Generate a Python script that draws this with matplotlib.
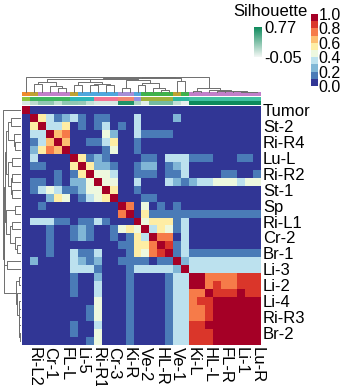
import numpy as np
import matplotlib
matplotlib.use("Agg")
import matplotlib.pyplot as plt
from matplotlib.colors import LinearSegmentedColormap, Normalize, to_rgba
from matplotlib.cm import ScalarMappable

plt.rcParams["font.family"] = ["Liberation Sans", "DejaVu Sans"]

# sample order (same for rows and columns)
samples = ["Tumor", "Ri-L2", "St-2", "Cr-1", "Ri-R4", "FL-L", "Lu-L", "Li-5",
           "Ri-R2", "Ri-R1", "St-1", "Cr-3", "Sp", "Ki-R", "Ri-L1", "Ve-2",
           "Cr-2", "HL-R", "Br-1", "Ve-1", "Li-3", "Ki-L", "Li-2", "HL-L",
           "Li-4", "FL-R", "Ri-R3", "Li-1", "Br-2", "Lu-R"]

# lower triangle of the similarity matrix (row i holds columns 0..i)
sim_lower = [
    [1.0],
    [.03, 1.0],
    [.03, .52, 1.0],
    [.03, .35, .35, 1.0],
    [.03, .17, .35, .62, 1.0],
    [.03, .27, .52, .70, .68, 1.0],
    [.03, .35, .03, .03, .03, .03, 1.0],
    [.03, .17, .17, .03, .03, .03, .52, 1.0],
    [.03, .03, .03, .03, .17, .03, .17, .50, 1.0],
    [.03, .17, .17, .03, .17, .03, .27, .27, .42, 1.0],
    [.03, .17, .35, .45, .35, .17, .17, .27, .45, .45, 1.0],
    [.03, .03, .03, .27, .52, .43, .03, .17, .30, .40, .52, 1.0],
    [.03, .03, .17, .03, .03, .03, .03, .03, .03, .03, .03, .03, 1.0],
    [.03, .03, .03, .03, .03, .03, .03, .03, .03, .03, .03, .03, .70, 1.0],
    [.03, .30, .30, .30, .17, .17, .03, .17, .17, .30, .17, .03, .03, .03, 1.0],
    [.03, .03, .03, .17, .03, .03, .17, .27, .17, .03, .03, .17, .43, .50, .43, 1.0],
    [.03, .03, .03, .17, .03, .03, .17, .27, .17, .03, .03, .17, .03, .17, .50, .35, 1.0],
    [.03, .03, .03, .17, .03, .03, .03, .03, .03, .03, .03, .03, .17, .17, .52, .52, .70, 1.0],
    [.03, .03, .03, .17, .03, .03, .30, .17, .17, .30, .03, .03, .03, .17, .50, .45, .72, .85, 1.0],
    [.03, .27, .03, .03, .03, .03, .30, .27, .17, .27, .03, .03, .17, .17, .17, .17, .03, .17, .17, 1.0],
    [.03, .03, .03, .03, .03, .03, .30, .35, .35, .17, .03, .03, .03, .17, .35, .35, .35, .35, .35, .25, 1.0],
    [.03, .03, .03, .03, .03, .03, .17, .03, .03, .27, .03, .03, .03, .17, .03, .03, .03, .03, .17, .35, .35, 1.0],
    [.03, .03, .03, .03, .03, .03, .17, .03, .03, .35, .03, .03, .03, .17, .03, .03, .03, .03, .17, .35, .35, .95, 1.0],
    [.03, .03, .03, .03, .03, .03, .17, .03, .03, .35, .03, .03, .03, .17, .03, .03, .03, .03, .17, .35, .35, .70, .70, 1.0],
    [.03, .03, .03, .03, .03, .03, .03, .03, .03, .43, .03, .03, .03, .17, .03, .03, .03, .03, .17, .35, .35, .70, .85, .85, 1.0],
    [.03, .03, .03, .03, .03, .03, .03, .03, .17, .43, .03, .03, .03, .17, .03, .03, .03, .03, .17, .35, .35, .70, .70, .85, .95, 1.0],
    [.03, .03, .03, .03, .03, .03, .03, .03, .17, .43, .03, .03, .03, .17, .03, .03, .03, .03, .17, .35, .35, .70, .70, .85, .95, .95, 1.0],
    [.03, .03, .03, .03, .03, .03, .17, .03, .03, .35, .03, .03, .03, .17, .03, .03, .03, .03, .17, .35, .35, .85, .85, .95, .95, .95, .95, 1.0],
    [.03, .03, .03, .03, .03, .03, .17, .03, .03, .43, .03, .03, .03, .17, .03, .03, .03, .03, .17, .35, .35, .85, .85, .85, .95, .95, .95, .95, 1.0],
    [.03, .03, .03, .03, .03, .03, .03, .03, .17, .43, .03, .03, .03, .17, .03, .03, .03, .03, .17, .35, .35, .85, .85, .85, .95, .95, .95, .95, .95, 1.0],
]

# column annotations
group_colors = ["#ef8b2c", "#bfa232", "#c27fca", "#c27fca", "#c27fca", "#c27fca",
                "#bfa232", "#4fa7dd", "#4fa7dd", "#4fa7dd", "#4fa7dd", "#4fa7dd",
                "#a68fd8", "#a68fd8", "#4fa7dd", "#3fb24b", "#3fb24b", "#3fb24b",
                "#3fb24b", "#bfa232", "#3fb24b", "#c27fca", "#c27fca", "#c27fca",
                "#c27fca", "#c27fca", "#c27fca", "#c27fca", "#c27fca", "#c27fca"]
site_colors = ["#8cc43e", "#3db560", "#3db560", "#3db560", "#3db560", "#3db560",
               "#2cb6b8", "#2cb6b8", "#2cb6b8", "#f27393", "#f27393", "#f27393",
               "#f28572", "#f28572", "#958fe0", "#9fb13c", "#9fb13c", "#9fb13c",
               "#9fb13c", "#2eb69e", "#2eb69e", "#40c0a2", "#40c0a2", "#40c0a2",
               "#40c0a2", "#40c0a2", "#40c0a2", "#40c0a2", "#40c0a2", "#40c0a2"]
silhouette = [0.05, 0.15, 0.3, 0.3, 0.12, 0.3, 0.3, 0.28, 0.12, 0.05, 0.05, 0.05,
              0.7, 0.7, 0.2, 0.02, 0.4, 0.4, 0.4, 0.12, 0.0, 0.77, 0.77, 0.77,
              0.77, 0.77, 0.77, 0.77, 0.77, 0.77]
sil_range = (-0.05, 0.77)

# hierarchical clustering tree: (left, right, merge height), leaves are positions
tree = (0, ((((((1, 2, .55), (3, (4, 5, .30), .38), .70),
               ((6, 7, .45), ((8, 9, .50), (10, 11, .45), .55), .68), .85),
              ((12, 13, .30), ((14, 15, .50), (16, (17, 18, .15), .28), .58), .80), .90),
             (19, 20, .75), .95),
            ((21, 22, .05), (23, ((24, 25, .04), (26, (27, (28, 29, .02), .03), .04), .05), .15), .25),
            .97), 1.0)

n = len(samples)
sim = np.zeros((n, n))
for i, row in enumerate(sim_lower):
    for j, v in enumerate(row):
        sim[i, j] = v
        sim[j, i] = v

W, H = 341, 386
fig = plt.figure(figsize=(W / 100, H / 100), dpi=100)


def px_axes(x0, y0, x1, y1):
    return fig.add_axes([x0 / W, 1 - y1 / H, (x1 - x0) / W, (y1 - y0) / H])


heat_cmap = plt.get_cmap("RdYlBu_r", 10)
sil_cmap = LinearSegmentedColormap.from_list("sil", ["#f4f7f5", "#0d8a5c"])

# heatmap
ax = px_axes(22, 106, 261, 345)
im = ax.imshow(sim, cmap=heat_cmap, vmin=0, vmax=1, aspect="auto",
               interpolation="nearest")
ax.set_xticks(range(1, n, 2))
ax.set_xticklabels(samples[1::2], rotation=270, ha="center", va="top", fontsize=12)
ax.set_yticks(range(0, n, 2))
ax.set_yticklabels(samples[0::2], fontsize=12)
ax.yaxis.tick_right()
ax.tick_params(length=0, pad=1.5)
for s in ax.spines.values():
    s.set_visible(False)

# annotation rows
for (y0, y1), colors in [((92, 96), group_colors), ((96.8, 100.8), site_colors)]:
    a = px_axes(22, y0, 261, y1)
    a.imshow(np.array([[to_rgba(c) for c in colors]]), aspect="auto",
             interpolation="nearest")
    a.axis("off")
a = px_axes(22, 101.2, 261, 105.2)
a.imshow(np.array([silhouette]), cmap=sil_cmap, vmin=sil_range[0],
         vmax=sil_range[1], aspect="auto", interpolation="nearest")
a.axis("off")


def tree_segments(node):
    segs = []

    def walk(nd):
        if isinstance(nd, int):
            return nd + 0.5, 0.0
        left, right, h = nd
        pl, hl = walk(left)
        pr, hr = walk(right)
        segs.append(([pl, pl, pr, pr], [hl, h, h, hr]))
        return (pl + pr) / 2, h

    walk(node)
    return segs


# top dendrogram
dt = px_axes(22, 77, 261, 92)
for pos, hts in tree_segments(tree):
    dt.plot(pos, hts, color="#6e6e6e", lw=0.7, clip_on=False)
dt.set_xlim(0, n)
dt.set_ylim(0, 1.0)
dt.axis("off")

# left dendrogram
dl = px_axes(3, 106, 20, 345)
for pos, hts in tree_segments(tree):
    dl.plot(hts, pos, color="#6e6e6e", lw=0.7, clip_on=False)
dl.set_ylim(n, 0)
dl.set_xlim(1.0, 0)
dl.axis("off")

# main colorbar
cax = px_axes(311, 14, 318, 86)
cb = fig.colorbar(im, cax=cax, ticks=[0, 0.2, 0.4, 0.6, 0.8, 1.0])
cb.outline.set_visible(False)
cb.set_ticklabels(["0.0", "0.2", "0.4", "0.6", "0.8", "1.0"])
cax.tick_params(length=0, pad=0.5, labelsize=11.5)

# silhouette legend
sax = px_axes(254, 27, 262, 57)
sb = fig.colorbar(ScalarMappable(norm=Normalize(*sil_range), cmap=sil_cmap),
                  cax=sax, ticks=list(sil_range))
sb.outline.set_visible(False)
sb.set_ticklabels(["-0.05", "0.77"])
sax.tick_params(length=0, pad=1.5, labelsize=12)
fig.text(270 / W, 1 - 11 / H, "Silhouette", ha="center", va="center", fontsize=12)

fig.savefig("out.png", dpi=100)
